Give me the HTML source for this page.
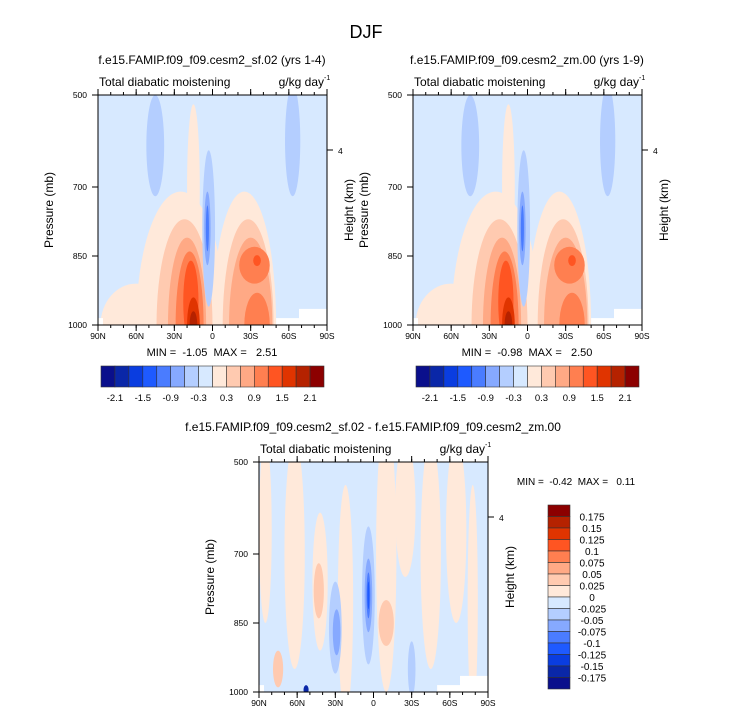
<!DOCTYPE html>
<html><head><meta charset="utf-8"><style>
body{margin:0;background:#fff;}
svg text{font-family:"Liberation Sans",sans-serif;fill:#000;white-space:pre;}
</style></head><body>
<svg id="chart" width="733" height="716" viewBox="0 0 733 716" xmlns="http://www.w3.org/2000/svg">
<defs>
<clipPath id="c1"><rect x="98" y="95" width="229" height="230"/></clipPath>
<clipPath id="c2"><rect x="413" y="95" width="229" height="230"/></clipPath>
<clipPath id="c3"><rect x="259" y="462" width="229" height="230"/></clipPath>
</defs>
<text x="366" y="38" font-size="18" text-anchor="middle">DJF</text>
</svg>
<script>
const colors=["#0a0f8c","#0a27a8","#0a3de0","#1e5aff","#4a7cff","#86a9ff","#b4ceff","#d7e9ff","#ffe9da","#ffcab0","#ffa985","#ff7f50","#ff5522","#e03400","#b52200","#8c0000"];
const latTicks=["90N","60N","30N","0","30S","60S","90S"];
const latTickVals=[90,60,30,0,-30,-60,-90];
const pTicks=[500,700,850,1000];
const cbLabels1=["-2.1","-1.5","-0.9","-0.3","0.3","0.9","1.5","2.1"];
const cbLabels3=["0.175","0.15","0.125","0.1","0.075","0.05","0.025","0","-0.025","-0.05","-0.075","-0.1","-0.125","-0.15","-0.175"];
// blobs: lat center, pressure center, lat half width, pressure half height, color level
const p1Lat=[45,-63,60,25,15,-25,22,-28,20,-30,18,-33,-35,17,-35,15,15,3,4,4];
const p1P=[610,600,1000,1000,700,1000,1000,1000,1000,1000,1000,870,1000,950,860,1000,1000,790,790,790];
const p1W=[7,6,28,35,5,25,22,20,15,17,11,12,10,6,3,5,3,5,2.5,1.2];
const p1H=[110,120,90,290,180,290,230,230,190,190,160,40,70,90,12,60,30,170,80,50];
const p1L=[6,6,8,8,8,8,9,9,10,10,11,11,11,12,12,13,14,6,5,4];
const p2Lat=p1Lat.slice(), p2P=p1P.slice(), p2W=p1W.slice(), p2H=p1H.slice(), p2L=p1L.slice();
const p3Lat=[85,62,42,22,-10,-25,-45,-65,-78,43,-10,75,30,4,29,4,4,4,53,-30];
const p3P=[650,700,760,800,700,600,700,650,800,780,850,950,860,790,870,790,790,790,995,950];
const p3W=[5,8,6,6,8,8,8,8,4,4,6,4,5,5,3,3,1.5,0.8,2,3];
const p3H=[200,250,150,250,300,150,250,200,250,60,50,40,100,150,50,80,50,30,10,60];
const p3L=[8,8,8,8,8,8,8,8,8,9,9,9,6,6,5,5,4,3,1,6];

const svg=document.getElementById('chart');
const NS="http://www.w3.org/2000/svg";
function mk(tag,attrs,parent){const e=document.createElementNS(NS,tag);for(const k in attrs)e.setAttribute(k,attrs[k]);(parent||svg).appendChild(e);return e;}
function txt(x,y,s,size,anchor,parent){const t=mk('text',{x:x,y:y,'font-size':size,'text-anchor':anchor||'start'},parent);t.textContent=s;return t;}

function panel(ox,oy,clip,lat,P,W,H,L,title,name){
  const xs=lat=>ox+(90-lat)*229/180;
  const ys=p=>oy+(p-500)*230/500;
  const g=mk('g',{});
  
  
  const cg=mk('g',{'clip-path':'url(#'+clip+')'},g);
  const bg=mk('rect',{x:ox,y:oy,width:229,height:230,fill:colors[7]},cg);
  
  
  for(let i=0;i<lat.length;i++){
    const e=mk('ellipse',{cx:xs(lat[i]),cy:ys(P[i]),rx:W[i]*229/180,ry:H[i]*230/500,fill:colors[L[i]]},cg);
    
    
  }
  mk('rect',{x:xs(-50),y:ys(985),width:xs(-90)-xs(-50),height:20,fill:'#fff'},cg);
  mk('rect',{x:xs(-68),y:ys(965),width:xs(-90)-xs(-68),height:40,fill:'#fff'},cg);
  mk('rect',{x:xs(90),y:ys(985),width:5,height:20,fill:'#fff'},cg);
  const fr=mk('rect',{x:ox,y:oy,width:229,height:230,fill:'none',stroke:'#000','stroke-width':1},g);
  
  
  latTickVals.forEach((v,i)=>{
    const x=xs(v);
    mk('line',{x1:x,y1:oy+230,x2:x,y2:oy+236,stroke:'#000'},g);
    mk('line',{x1:x,y1:oy,x2:x,y2:oy-6,stroke:'#000'},g);
    const t=txt(x,oy+244,latTicks[i],8.5,'middle',g);
    
    
  });
  for(let v=-80;v<=80;v+=10){const x=xs(v);mk('line',{x1:x,y1:oy+230,x2:x,y2:oy+233,stroke:'#000'},g);mk('line',{x1:x,y1:oy,x2:x,y2:oy-3,stroke:'#000'},g);}
  pTicks.forEach(v=>{
    const y=ys(v);
    mk('line',{x1:ox,y1:y,x2:ox-6,y2:y,stroke:'#000'},g);
    const t=txt(ox-11,y+3,String(v),8.5,'end',g);
    
    
  });
  mk('line',{x1:ox+229,y1:oy+55,x2:ox+235,y2:oy+55,stroke:'#000'},g);
  txt(ox+240,oy+59,'4',8.5,'start',g);
  const yt=txt(0,0,'Pressure (mb)',12,'middle',g);
  yt.setAttribute('transform','translate('+(ox-45)+','+(oy+115)+') rotate(-90)');
  
  
  const ht=txt(0,0,'Height (km)',12,'middle',g);
  ht.setAttribute('transform','translate('+(ox+255)+','+(oy+115)+') rotate(-90)');
  
  
  const st=txt(ox+1,oy-9,'Total diabatic moistening',12,'start',g);
  
  
  const un=txt(ox+226,oy-9,'g/kg day',12,'end',g);
  
  
  txt(ox+226,oy-15,'-1',7,'start',g);
  const tt=txt(ox+114,oy-31,title,12,'middle',g);
  
  
  return g;
}
panel(98,95,'c1',p1Lat,p1P,p1W,p1H,p1L,'f.e15.FAMIP.f09_f09.cesm2_sf.02 (yrs 1-4)','panel-sf02');
panel(413,95,'c2',p2Lat,p2P,p2W,p2H,p2L,'f.e15.FAMIP.f09_f09.cesm2_zm.00 (yrs 1-9)','panel-zm00');
panel(259,462,'c3',p3Lat,p3P,p3W,p3H,p3L,'f.e15.FAMIP.f09_f09.cesm2_sf.02 - f.e15.FAMIP.f09_f09.cesm2_zm.00','panel-difference');

let m=txt(212,356,'MIN =  -1.05  MAX =   2.51',11,'middle');

m=txt(527,356,'MIN =  -0.98  MAX =   2.50',11,'middle');

m=txt(576,485,'MIN =  -0.42  MAX =   0.11',10,'middle');


function hbar(ox,name){
  const g=mk('g',{});
  
  
  const w=223/16;
  colors.forEach((c,i)=>{const r=mk('rect',{x:ox+i*w,y:366,width:w,height:21,fill:c,stroke:'#333','stroke-width':0.6},g);
    });
  cbLabels1.forEach((s,i)=>{const t=txt(ox+(2*i+1)*w,401,s,9.5,'middle',g);
    });
}
hbar(101,'colorbar-1');hbar(416,'colorbar-2');
(function(){
  const g=mk('g',{});
  
  
  const h=184/16;
  for(let i=0;i<16;i++){const r=mk('rect',{x:548,y:505+i*h,width:22,height:h,fill:colors[15-i],stroke:'#333','stroke-width':0.6},g);
    }
  cbLabels3.forEach((s,i)=>{const t=txt(592,505+(i+1)*h+4,s,10,'middle',g);
    });
})();
</script>
</body></html>
